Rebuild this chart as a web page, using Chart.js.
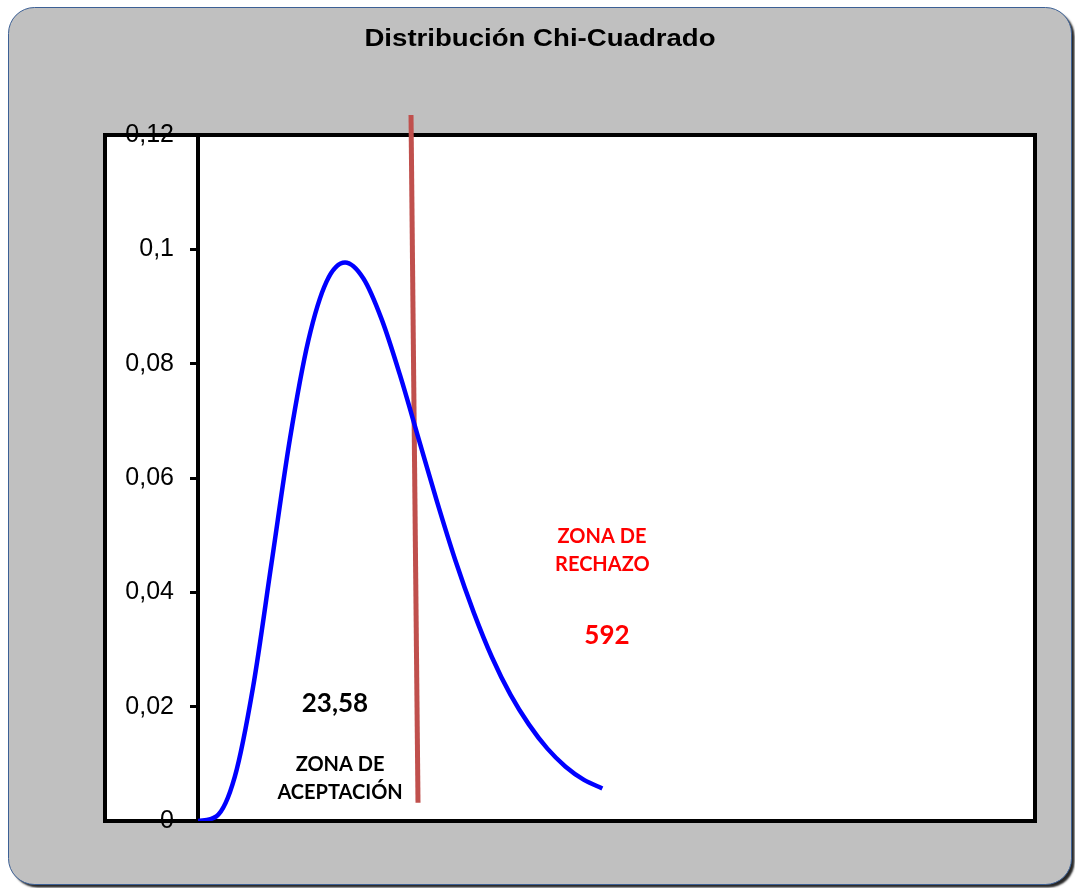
<!DOCTYPE html>
<html>
<head>
<meta charset="utf-8">
<script src="https://cdn.jsdelivr.net/npm/chart.js@4/dist/chart.umd.min.js"></script>
<style>
body { margin: 0; background: #ffffff; }
</style>
</head>
<body>
<canvas id="myChart" width="1075" height="888"></canvas>
<script>
var chartTitle = 'Distribución Chi-Cuadrado';

// curva chi-cuadrado
var xValues = [0, 1, 2, 3, 4, 5, 6, 7, 8, 9, 10, 11, 12, 13, 14, 15, 16, 17, 18, 19, 20, 21, 22];
var densityValues = [0, 0.0008, 0.0077, 0.0235, 0.0451, 0.0668, 0.084, 0.0944, 0.0977, 0.0949, 0.0877,
    0.0779, 0.0669, 0.0559, 0.0456, 0.0365, 0.0286, 0.0221, 0.0169, 0.0127, 0.0095, 0.0072, 0.0057];

// linea del valor critico
var criticalX = [11.59, 11.97];
var criticalY = [0.1235, 0.0032];

var yTickLabels = ['0', '0,02', '0,04', '0,06', '0,08', '0,1', '0,12'];

var noteTexts = ['23,58', 'ZONA DE', 'ACEPTACIÓN', 'ZONA DE', 'RECHAZO', '592'];
var noteX = [7.45, 7.73, 7.73, 21.98, 22.0, 22.25];
var noteY = [0.0206, 0.0099, 0.0049, 0.0497, 0.0448, 0.0324];
var noteColors = ['#000000', '#000000', '#000000', '#ff0000', '#ff0000', '#ff0000'];
var noteSizes = [26, 20, 20, 20, 20, 26];

var framePlugin = {
    id: 'frame',
    beforeDraw: function (chart) {
        var ctx = chart.ctx;
        var a = chart.chartArea;
        var left = chart.scales.y.left;
        ctx.save();
        ctx.fillStyle = '#ffffff';
        ctx.fillRect(0, 0, chart.width, chart.height);
        // fondo gris redondeado con sombra
        ctx.shadowColor = 'rgba(0,0,0,0.85)';
        ctx.shadowOffsetX = 3;
        ctx.shadowOffsetY = 3;
        ctx.shadowBlur = 2;
        ctx.beginPath();
        ctx.roundRect(8.5, 7.5, 1063, 877, 26);
        ctx.fillStyle = '#c0c0c0';
        ctx.fill();
        ctx.shadowColor = 'transparent';
        ctx.lineWidth = 1;
        ctx.strokeStyle = '#3c6095';
        ctx.stroke();
        ctx.fillStyle = '#ffffff';
        ctx.fillRect(left, a.top, a.right - left, a.bottom - a.top);
        // titulo
        ctx.fillStyle = '#000000';
        ctx.font = 'bold 23px "Liberation Sans", Arial, sans-serif';
        ctx.textAlign = 'center';
        ctx.textBaseline = 'middle';
        ctx.translate(540, 40);
        ctx.scale(1.2, 1);
        ctx.fillText(chartTitle, 0, 0);
        ctx.restore();
    },
    beforeDatasetsDraw: function (chart) {
        var ctx = chart.ctx;
        var a = chart.chartArea;
        var left = chart.scales.y.left;
        ctx.save();
        ctx.lineWidth = 4;
        ctx.strokeStyle = '#000000';
        ctx.strokeRect(left, a.top, a.right - left, a.bottom - a.top);
        ctx.restore();
    },
    afterDatasetsDraw: function (chart) {
        var ctx = chart.ctx;
        var xs = chart.scales.x;
        var ys = chart.scales.y;
        ctx.save();
        ctx.textAlign = 'center';
        ctx.textBaseline = 'middle';
        for (var i = 0; i < noteTexts.length; i++) {
            ctx.fillStyle = noteColors[i];
            ctx.font = 'bold ' + noteSizes[i] + 'px Lato, "Open Sans", sans-serif';
            ctx.fillText(noteTexts[i], xs.getPixelForValue(noteX[i]), ys.getPixelForValue(noteY[i]));
        }
        ctx.restore();
    }
};

var myChart = new Chart('myChart', {
    type: 'line',
    data: {
        datasets: [{
            label: 'Chi-Cuadrado',
            data: xValues.map(function (x, i) { return { x: x, y: densityValues[i] }; }),
            borderColor: '#0000ff',
            borderWidth: 4.5,
            pointRadius: 0,
            cubicInterpolationMode: 'monotone',
            fill: false
        }, {
            label: 'Valor crítico',
            data: criticalX.map(function (x, i) { return { x: x, y: criticalY[i] }; }),
            borderColor: '#c0504d',
            borderWidth: 5,
            pointRadius: 0,
            clip: false,
            fill: false
        }]
    },
    options: {
        responsive: false,
        animation: false,
        layout: {
            padding: { left: 105, right: 40, top: 135, bottom: 67 }
        },
        plugins: {
            legend: { display: false },
            tooltip: { enabled: false }
        },
        scales: {
            x: {
                type: 'linear',
                min: 0,
                max: 45.54,
                display: false
            },
            y: {
                min: 0,
                max: 0.12,
                position: 'left',
                afterFit: function (scale) { scale.width = 93; },
                border: { display: true, color: '#000000', width: 4 },
                grid: {
                    drawOnChartArea: false,
                    drawTicks: true,
                    tickLength: 8,
                    color: '#000000',
                    lineWidth: 3
                },
                ticks: {
                    stepSize: 0.02,
                    padding: 16,
                    color: '#000000',
                    font: { family: '"Liberation Sans", Arial, sans-serif', size: 25 },
                    callback: function (value, index) {
                        return yTickLabels[index];
                    }
                }
            }
        }
    },
    plugins: [framePlugin]
});
</script>
</body>
</html>
